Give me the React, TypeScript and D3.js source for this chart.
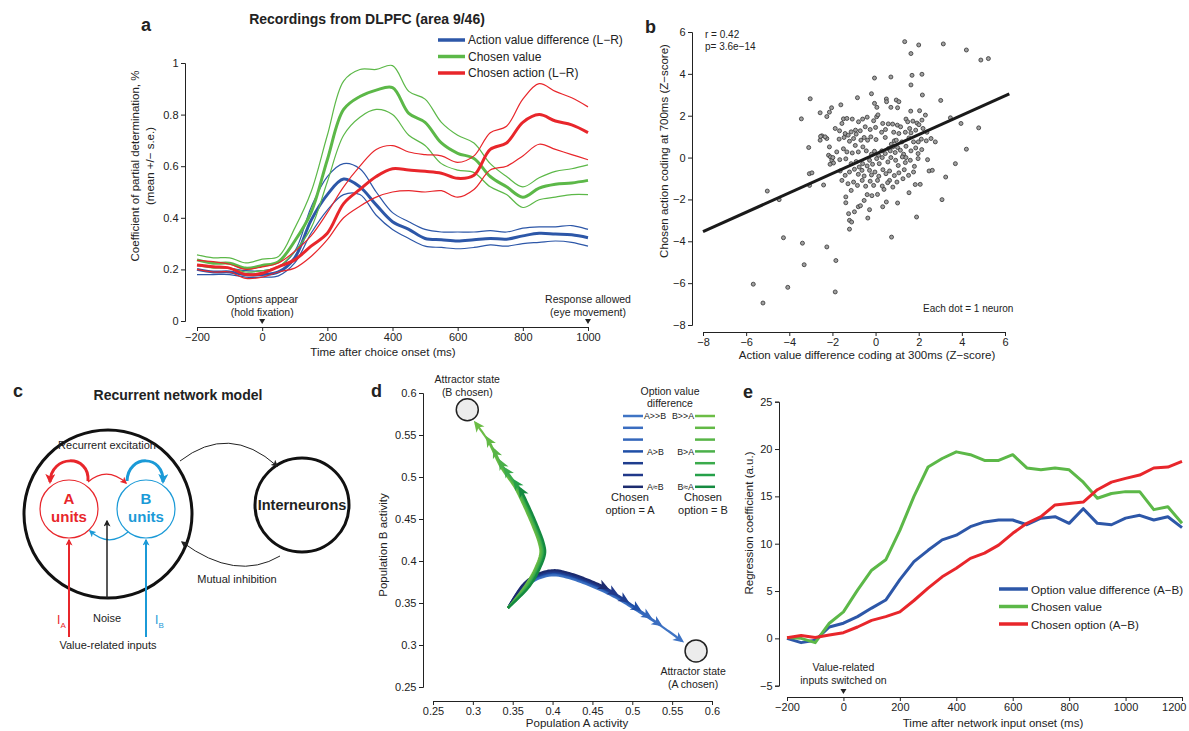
import React, { useEffect, useRef } from 'react';
import * as d3 from 'd3';

const FONT = '"Liberation Sans", Arial, Helvetica, sans-serif';
const INK = '#222';
const BLUE = '#2d57a8';
const GREEN = '#5cb848';
const RED = '#e8262b';
const CYAN = '#1b9ad7';

// ---------- panel a : DLPFC recordings ----------
const TIME_A = [-200, -150, -100, -50, 0, 50, 100, 150, 200, 250, 300, 350, 400, 450, 500, 550, 600, 650, 700, 750, 800, 850, 900, 950, 1000];
const AVD_MEAN = [0.2, 0.19, 0.19, 0.18, 0.18, 0.19, 0.245, 0.39, 0.49, 0.55, 0.52, 0.45, 0.385, 0.355, 0.32, 0.315, 0.31, 0.315, 0.32, 0.317, 0.33, 0.34, 0.337, 0.334, 0.323];
const AVD_UP = [0.215, 0.21, 0.205, 0.195, 0.195, 0.21, 0.27, 0.44, 0.56, 0.61, 0.59, 0.5, 0.42, 0.385, 0.355, 0.345, 0.345, 0.345, 0.35, 0.345, 0.36, 0.365, 0.365, 0.37, 0.355];
const AVD_LO = [0.18, 0.18, 0.18, 0.17, 0.17, 0.175, 0.225, 0.34, 0.43, 0.49, 0.49, 0.41, 0.355, 0.32, 0.29, 0.285, 0.28, 0.285, 0.295, 0.29, 0.3, 0.305, 0.31, 0.305, 0.29];
const CV_MEAN = [0.237, 0.224, 0.224, 0.205, 0.215, 0.23, 0.31, 0.42, 0.625, 0.82, 0.87, 0.895, 0.905, 0.805, 0.77, 0.69, 0.65, 0.63, 0.56, 0.52, 0.48, 0.515, 0.53, 0.535, 0.545];
const CV_UP = [0.256, 0.245, 0.245, 0.225, 0.24, 0.25, 0.36, 0.5, 0.72, 0.93, 0.975, 0.975, 0.99, 0.89, 0.86, 0.77, 0.72, 0.69, 0.61, 0.56, 0.52, 0.555, 0.58, 0.59, 0.605];
const CV_LO = [0.215, 0.205, 0.205, 0.19, 0.195, 0.21, 0.27, 0.36, 0.54, 0.72, 0.79, 0.82, 0.8, 0.72, 0.68, 0.61, 0.585, 0.575, 0.52, 0.49, 0.44, 0.47, 0.48, 0.49, 0.49];
const CA_MEAN = [0.217, 0.21, 0.205, 0.18, 0.185, 0.21, 0.237, 0.29, 0.34, 0.455, 0.51, 0.56, 0.59, 0.585, 0.58, 0.573, 0.553, 0.565, 0.665, 0.69, 0.77, 0.8, 0.775, 0.76, 0.73];
const CA_UP = [0.235, 0.23, 0.22, 0.2, 0.21, 0.225, 0.27, 0.33, 0.42, 0.52, 0.6, 0.665, 0.68, 0.655, 0.645, 0.64, 0.615, 0.64, 0.73, 0.755, 0.86, 0.92, 0.89, 0.865, 0.83];
const CA_LO = [0.2, 0.19, 0.19, 0.165, 0.17, 0.19, 0.205, 0.25, 0.315, 0.4, 0.445, 0.48, 0.5, 0.505, 0.5, 0.505, 0.48, 0.51, 0.585, 0.6, 0.64, 0.685, 0.665, 0.645, 0.625];
const LEGEND_A = ['Action value difference (L\u2212R)', 'Chosen value', 'Chosen action (L\u2212R)'];

// ---------- panel b : scatter ----------
const NEURONS: number[][] = [
  [1.35, 5.54], [2.0, 5.38], [3.14, 5.43], [4.21, 5.14], [4.88, 4.66], [5.23, 4.73], [1.64, 4.97], [-0.05, 3.8], [0.71, 3.85], [1.69, 3.93],
  [2.15, 3.98], [1.64, 3.47], [-3.03, 2.81], [-0.19, 3.05], [-0.84, 2.86], [-1.61, 2.52], [-2.14, 2.17], [-2.04, 2.38], [-2.57, 2.14], [-3.44, 1.85],
  [-2.26, 1.96], [0.5, 2.8], [0.51, 2.67], [0.96, 2.75], [1.08, 2.67], [-0.05, 2.59], [0.06, 2.4], [0.71, 2.4], [1.02, 2.38], [1.63, 2.22],
  [2.04, 2.24], [2.17, 2.99], [2.31, 2.03], [3.02, 2.73], [3.47, 1.9], [3.96, 1.63], [4.78, 1.42], [4.21, 0.4], [3.7, -0.29], [3.25, -0.93],
  [3.08, -2.01], [2.77, 0.75], [2.35, 0.8], [2.57, 0.91], [2.41, -0.1], [2.48, -0.64], [2.63, -0.61], [2.07, -1.28], [1.84, -1.29], [1.55, -1.68],
  [1.9, -2.84], [1.02, -2.17], [0.74, -3.8], [0.65, -1.09], [0.39, -1.52], [0.09, -1.76], [-0.17, -1.82], [-0.39, -1.77], [0.33, -2.35], [0.5, -2.12],
  [-0.53, -2.05], [-0.28, -2.49], [-0.36, -2.89], [-0.8, -2.35], [-0.7, -2.3], [-0.98, -2.59], [-1.13, -1.57], [-1.25, -2.68], [-1.21, -3.0], [-1.11, -3.08],
  [-1.21, -3.42], [-1.38, -2.16], [-1.38, -1.88], [-1.84, -4.92], [-2.26, -4.27], [-1.87, -6.42], [-3.39, -4.09], [-3.31, -5.12], [-4.27, -3.83], [-4.07, -6.2],
  [-5.67, -6.05], [-5.22, -6.95], [-5.02, -1.6], [-4.47, -2.01], [-3.07, -0.77], [-2.95, -0.73], [-3.06, -1.33], [-2.41, -1.31], [-3.1, 0.48], [-2.49, 1.04],
  [-2.26, 0.91], [-2.57, 0.83], [-2.55, 1.01], [-2.34, 0.99], [-2.14, 0.51], [-2.18, 0.11], [-2.09, 0.03], [-2.03, -0.13], [-1.95, -0.26], [-2.11, -0.32],
  [-1.98, 0.0], [-1.8, 0.27], [-1.87, 1.39], [-1.67, 1.28], [-1.56, 1.63], [-1.49, 1.85],
  [-1.33, 1.87], [-1.08, 1.84], [-0.79, 1.71], [-0.6, 1.84], [-0.39, 1.93], [-0.09, 1.76], [0.05, 1.95], [0.11, 2.04], [0.33, 1.63], [0.59, 1.61],
  [0.79, 1.6], [1.01, 1.55], [1.16, 1.47], [1.41, 1.84], [1.49, 1.71], [1.73, 1.74], [1.92, 1.65], [2.01, 1.57], [2.15, 1.79],
  [-1.41, 1.15], [-1.27, 1.07], [-1.13, 1.23], [-0.93, 1.31], [-0.9, 1.12], [-0.71, 1.28], [-0.48, 1.47], [-0.25, 1.34], [0, 1.44], [0.28, 1.21],
  [0.46, 1.34], [0.84, 1.21], [1.08, 1.15], [1.38, 1.21], [1.58, 1.39], [1.64, 1.18], [1.86, 1.31], [2.2, 1.39], [2.38, 1.21],
  [-1.69, 0.88], [-1.46, 0.96], [-1.21, 0.78], [-1.02, 0.91], [-0.94, 0.58], [-0.68, 0.83], [-0.53, 0.96], [-0.37, 0.83], [-0.22, 0.99], [0.02, 0.86],
  [0.45, 0.96], [0.73, 0.64], [0.87, 0.8], [1.02, 0.48], [1.22, 0.75], [1.41, 0.54], [1.55, 0.94], [1.76, 0.75], [1.98, 0.75], [2.12, 0.88],
  [0.8, 0.51], [0.96, 0.83], [0.6, 0.43],
  [-1.49, 0.42], [-1.33, 0.27], [-1.08, 0.22], [-0.8, 0.27], [-0.59, 0.51], [-0.43, 0.32], [-0.19, 0.16], [-0.05, 0.3], [0.14, 0.11], [0.29, 0.32],
  [0.45, 0.19], [0.68, 0.32], [0.91, 0.24], [1.15, 0.35], [1.3, 0.16], [1.64, 0.32], [1.97, 0.19], [2.14, 0.38], [1.86, 0.46],
  [-1.66, -0.1], [-1.38, -0.06], [-1.13, -0.29], [-0.9, -0.19], [-0.76, -0.45], [-0.6, -0.29], [-0.39, -0.4], [-0.28, -0.13], [-0.14, -0.32], [0.05, -0.05],
  [0.17, -0.29], [0.31, 0], [0.57, -0.21], [0.71, 0], [0.93, -0.13], [1.05, -0.38], [1.24, 0.03], [1.41, 0], [1.61, -0.13], [1.8, -0.42],
  [1.97, -0.05], [1.38, -0.24],
  [-1.64, -0.64], [-1.41, -0.85], [-1.21, -0.69], [-0.98, -0.56], [-0.8, -0.8], [-0.63, -0.61], [-0.53, -0.88], [-0.28, -0.61], [-0.19, -0.83], [-0.03, -0.69],
  [0.15, -0.89], [0.34, -0.58], [0.48, -0.77], [0.65, -0.64], [0.87, -0.86], [1.08, -0.73], [1.33, -0.58], [1.53, -0.85], [1.76, -0.69],
  [-1.56, -1.09], [-1.28, -1.25], [-1.02, -1.17], [-0.84, -1.33], [-0.62, -1.09], [-0.46, -1.37], [-0.25, -1.13], [-0.09, -1.33], [0.09, -1.09], [0.31, -1.36],
  [0.56, -1.2], [0.8, -1.41], [0.99, -1.17], [1.27, -1.01],
];
const REG_LINE = [[-8, -3.54], [6.2, 3.04]];
const TICKS_B = [-8, -6, -4, -2, 0, 2, 4, 6];

// ---------- panel d : state space ----------
const PATH_B_CHOSEN = [[0.344, 0.344], [0.3675, 0.369], [0.38, 0.389], [0.3877, 0.4095], [0.386, 0.421], [0.38, 0.437], [0.3675, 0.4646], [0.355, 0.4885], [0.338, 0.512], [0.3215, 0.544], [0.3065, 0.564]];
const PATH_A_CHOSEN = [[0.344, 0.344], [0.363, 0.369], [0.38, 0.381], [0.4006, 0.386], [0.4177, 0.3834], [0.4428, 0.3753], [0.476, 0.361], [0.5097, 0.3416], [0.539, 0.3238], [0.562, 0.308]];
const BLUE_SHADES = ['#3f74c4', '#3a6dc0', '#3467bb', '#1f4fa7', '#1f3d8e', '#20388a', '#1c2b6f'];
const GREEN_SHADES = ['#6cbd46', '#62b946', '#58b547', '#4bb04a', '#3bab4c', '#25a049', '#158a40'];
const BLUE_REACH = [1, 0.87, 0.81, 0.75, 0.68, 0.62, 0.57];
const GREEN_REACH = [1, 0.91, 0.85, 0.79, 0.75, 0.68, 0.64];
const SPREAD = [-0.003, -0.002, -0.001, 0, 0.001, 0.002, 0.003];
const ATTRACTORS = [[0.293, 0.58], [0.58, 0.293]];
const TICKS_D = [0.25, 0.3, 0.35, 0.4, 0.45, 0.5, 0.55, 0.6];
const LEGEND_D_LEFT = ['A>>B', '', '', 'A>B', '', '', 'A\u2248B'];
const LEGEND_D_RIGHT = ['B>>A', '', '', 'B>A', '', '', 'B\u2248A'];

// ---------- panel e : network model ----------
const TIME_E = [-200, -150, -100, -50, 0, 50, 100, 150, 200, 250, 300, 350, 400, 450, 500, 550, 600, 650, 700, 750, 800, 850, 900, 950, 1000, 1050, 1100, 1150, 1200];
const OVD_E = [0, -0.45, -0.2, 1.2, 1.6, 2.3, 3.2, 4.05, 6.2, 8.1, 9.3, 10.4, 10.9, 11.8, 12.3, 12.5, 12.5, 12.0, 12.7, 12.85, 12.15, 13.7, 12.15, 12.0, 12.7, 13.0, 12.5, 12.85, 11.7];
const CV_E = [0.1, 0, -0.45, 1.6, 2.8, 5.1, 7.2, 8.3, 11.4, 15.0, 18.1, 19.0, 19.7, 19.4, 18.8, 18.8, 19.4, 18.0, 17.8, 18.0, 17.8, 16.5, 14.8, 15.3, 15.5, 15.5, 13.6, 13.9, 12.15];
const CO_E = [0.07, 0.3, 0.1, 0.35, 0.6, 1.2, 1.9, 2.3, 2.8, 4.0, 5.3, 6.5, 7.4, 8.45, 9.0, 9.85, 11.1, 12.15, 12.85, 14.1, 14.25, 14.4, 15.7, 16.5, 16.9, 17.25, 18.0, 18.1, 18.7];
const LEGEND_E = ['Option value difference (A\u2212B)', 'Chosen value', 'Chosen option (A\u2212B)'];

type Sel = d3.Selection<any, any, any, any>;
const plain = d3.format('');

function label(g: Sel, x: number, y: number, s: string, size = 11, opts: any = {}) {
  return g.append('text')
    .attr('x', x).attr('y', y)
    .attr('text-anchor', opts.anchor || 'middle')
    .style('font-family', FONT)
    .style('font-size', `${size}px`)
    .style('font-weight', opts.bold ? '700' : '400')
    .style('fill', opts.color || INK)
    .text(s);
}

function vlabel(g: Sel, x: number, y: number, s: string, size = 11.5) {
  return g.append('text')
    .attr('transform', `translate(${x},${y}) rotate(-90)`)
    .attr('text-anchor', 'middle')
    .style('font-family', FONT)
    .style('font-size', `${size}px`)
    .style('fill', INK)
    .text(s);
}

function axis(g: Sel, ax: any, transform: string) {
  const a = g.append('g').attr('transform', transform).call(ax.tickSizeOuter(0).tickSize(4).tickPadding(2.5));
  a.selectAll('text').style('font-family', FONT).style('font-size', '11px').style('fill', INK);
  a.selectAll('line').attr('stroke', INK);
  a.select('.domain').attr('stroke', INK);
  return a;
}

function triangle(g: Sel, x: number, y: number) {
  g.append('path').attr('d', `M${x - 3},${y - 4} L${x + 3},${y - 4} L${x},${y + 1} Z`).attr('fill', INK);
}

function drawA(svg: Sel) {
  const g = svg.append('g');
  const x = d3.scaleLinear().domain([-200, 1000]).range([197, 588]);
  const y = d3.scaleLinear().domain([0, 1]).range([321, 63]);

  label(g, 141, 31, 'a', 18, { bold: true, anchor: 'start' });
  label(g, 367, 24, 'Recordings from DLPFC (area 9/46)', 14, { bold: true });

  axis(g, d3.axisLeft(y).tickValues([0, 0.2, 0.4, 0.6, 0.8, 1]).tickFormat((d: any) => String(d)), 'translate(185,0)');
  axis(g, d3.axisBottom(x).tickValues([-200, 0, 200, 400, 600, 800, 1000]).tickFormat(plain as any), 'translate(0,327)');

  vlabel(g, 139, 166, 'Coefficient of partial determination, %');
  vlabel(g, 154, 166, '(mean +/\u2212 s.e.)');
  label(g, 383, 356, 'Time after choice onset (ms)', 11.5);

  const line = d3.line<number>().x((_, i) => x(TIME_A[i])).y(d => y(d)).curve(d3.curveCatmullRom.alpha(0.5));
  const groups = [
    { c: BLUE, m: AVD_MEAN, u: AVD_UP, l: AVD_LO },
    { c: GREEN, m: CV_MEAN, u: CV_UP, l: CV_LO },
    { c: RED, m: CA_MEAN, u: CA_UP, l: CA_LO },
  ];
  groups.forEach(s => {
    [s.u, s.l].forEach(arr => g.append('path').attr('d', line(arr)).attr('fill', 'none').attr('stroke', s.c).attr('stroke-width', 1.2));
    g.append('path').attr('d', line(s.m)).attr('fill', 'none').attr('stroke', s.c).attr('stroke-width', 3);
  });

  label(g, x(0), 303, 'Options appear', 10.5);
  label(g, x(0), 315.5, '(hold fixation)', 10.5);
  label(g, x(1000), 303, 'Response allowed', 10.5);
  label(g, x(1000), 315.5, '(eye movement)', 10.5);
  triangle(g, x(0), 323);
  triangle(g, x(1000), 323);

  [BLUE, GREEN, RED].forEach((c, i) => {
    const ly = 40 + i * 16.5;
    g.append('line').attr('x1', 438).attr('x2', 465).attr('y1', ly).attr('y2', ly).attr('stroke', c).attr('stroke-width', 3.5);
    label(g, 468, ly + 4, LEGEND_A[i], 12, { anchor: 'start' });
  });
}

function drawB(svg: Sel) {
  const g = svg.append('g');
  const x = d3.scaleLinear().domain([-8, 6]).range([703, 1005]);
  const y = d3.scaleLinear().domain([-8, 6]).range([325, 32]);

  label(g, 645, 33, 'b', 18, { bold: true, anchor: 'start' });
  axis(g, d3.axisLeft(y).tickValues(TICKS_B), 'translate(692,0)');
  axis(g, d3.axisBottom(x).tickValues(TICKS_B), 'translate(0,332)');
  vlabel(g, 668, 151, 'Chosen action coding at 700ms (Z\u2212score)');
  label(g, 867, 359, 'Action value difference coding at 300ms (Z\u2212score)', 11.5);

  g.selectAll('circle.n').data(NEURONS).enter().append('circle')
    .attr('cx', d => x(d[0])).attr('cy', d => y(d[1])).attr('r', 2)
    .attr('fill', '#a0a0a0').attr('stroke', '#333').attr('stroke-width', 0.8);

  g.append('path').attr('d', d3.line()(REG_LINE.map(d => [x(d[0]), y(d[1])]) as any))
    .attr('stroke', '#1a1a1a').attr('stroke-width', 3).attr('fill', 'none');

  label(g, 705, 38, 'r = 0.42', 10, { anchor: 'start' });
  label(g, 705, 50, 'p= 3.6e\u221214', 10, { anchor: 'start' });
  label(g, 923, 312, 'Each dot = 1 neuron', 10, { anchor: 'start' });
}

function drawC(svg: Sel) {
  const g = svg.append('g');
  const defs = svg.append('defs');
  const marker = (id: string, color: string, size: number) => {
    defs.append('marker').attr('id', id).attr('viewBox', '0 0 10 10').attr('refX', 8).attr('refY', 5)
      .attr('markerUnits', 'userSpaceOnUse').attr('markerWidth', size).attr('markerHeight', size).attr('orient', 'auto')
      .append('path').attr('d', 'M0,0 L10,5 L0,10 L2.5,5 Z').attr('fill', color);
  };
  marker('mRedBig', RED, 10);
  marker('mCyanBig', CYAN, 10);
  marker('mRed', RED, 7);
  marker('mCyan', CYAN, 7);
  marker('mBlack', INK, 7);

  label(g, 13, 397, 'c', 18, { bold: true, anchor: 'start' });
  label(g, 178, 400, 'Recurrent network model', 14, { bold: true });

  g.append('circle').attr('cx', 108).attr('cy', 514).attr('r', 84).attr('fill', 'none').attr('stroke', '#111').attr('stroke-width', 3);
  g.append('circle').attr('cx', 302).attr('cy', 505).attr('r', 47).attr('fill', 'none').attr('stroke', '#111').attr('stroke-width', 3);
  label(g, 302, 510, 'Interneurons', 14.5, { bold: true });

  g.append('circle').attr('cx', 69).attr('cy', 509).attr('r', 29).attr('fill', 'none').attr('stroke', RED).attr('stroke-width', 1.2);
  g.append('circle').attr('cx', 146).attr('cy', 509).attr('r', 29).attr('fill', 'none').attr('stroke', CYAN).attr('stroke-width', 1.2);
  label(g, 69, 504, 'A', 15, { bold: true, color: RED });
  label(g, 69, 522, 'units', 15, { bold: true, color: RED });
  label(g, 146, 504, 'B', 15, { bold: true, color: CYAN });
  label(g, 146, 522, 'units', 15, { bold: true, color: CYAN });

  label(g, 107, 449, 'Recurrent excitation', 11);
  const arc = (d: string, c: string, w: number, m: string) =>
    g.append('path').attr('d', d).attr('fill', 'none').attr('stroke', c).attr('stroke-width', w).attr('marker-end', `url(#${m})`);
  arc('M88,481 C90,454 51,454 50,482', RED, 3, 'mRedBig');
  arc('M127,481 C128,454 164,454 163,482', CYAN, 3, 'mCyanBig');
  arc('M88,482 Q107,466 126,483', RED, 1.2, 'mRed');
  arc('M128,532 Q109,548 90,531', CYAN, 1.2, 'mCyan');

  arc('M69,637 L69,540', RED, 2, 'mRed');
  arc('M146,637 L146,540', CYAN, 2, 'mCyan');
  arc('M107,598 L107,521', INK, 1.5, 'mBlack');

  label(g, 57, 624, 'I', 12, { color: RED, anchor: 'start' });
  label(g, 60.5, 628, 'A', 8, { color: RED, anchor: 'start' });
  label(g, 155, 624, 'I', 12, { color: CYAN, anchor: 'start' });
  label(g, 158.5, 628, 'B', 8, { color: CYAN, anchor: 'start' });
  label(g, 107, 622, 'Noise', 11);
  label(g, 108, 649, 'Value-related inputs', 11);

  arc('M180,461 Q229,423 277,466', INK, 1, 'mBlack');
  arc('M280,556 Q236,582 182,542', INK, 1, 'mBlack');
  label(g, 237, 583, 'Mutual inhibition', 11);
}

function drawD(svg: Sel) {
  const g = svg.append('g');
  const x = d3.scaleLinear().domain([0.25, 0.6]).range([433, 712]);
  const y = d3.scaleLinear().domain([0.25, 0.6]).range([687, 393]);
  const fmt = (d: any) => String(+(+d).toFixed(2));

  label(g, 371, 397, 'd', 18, { bold: true, anchor: 'start' });
  axis(g, d3.axisLeft(y).tickValues(TICKS_D).tickFormat(fmt), 'translate(423,0)');
  axis(g, d3.axisBottom(x).tickValues(TICKS_D).tickFormat(fmt), 'translate(0,701)');
  vlabel(g, 387, 545, 'Population B activity');
  label(g, 577, 727, 'Population A activity', 11.5);

  ATTRACTORS.forEach(a => {
    g.append('circle').attr('cx', x(a[0])).attr('cy', y(a[1])).attr('r', 11)
      .attr('fill', '#ececec').attr('stroke', INK).attr('stroke-width', 1.5);
  });
  label(g, x(ATTRACTORS[0][0]), 383, 'Attractor state', 10.5);
  label(g, x(ATTRACTORS[0][0]), 396, '(B chosen)', 10.5);
  label(g, x(ATTRACTORS[1][0]) - 3, 675, 'Attractor state', 10.5);
  label(g, x(ATTRACTORS[1][0]) - 3, 688, '(A chosen)', 10.5);

  const lineGen = d3.line<number[]>().x(d => x(d[0])).y(d => y(d[1])).curve(d3.curveCatmullRom.alpha(0.5));
  const drawTraj = (base: number[][], color: string, reach: number, off: number[]) => {
    const pts = base.map((p, i) => (i === 0 ? p : [p[0] + off[0], p[1] + off[1]]));
    const tmp = g.append('path').attr('d', lineGen(pts)).attr('fill', 'none');
    const node = tmp.node() as SVGPathElement;
    const L = node.getTotalLength() * reach;
    const n = 80;
    const samples = d3.range(n + 1).map(i => node.getPointAtLength((L * i) / n));
    tmp.remove();
    g.append('path').attr('d', d3.line()(samples.map(p => [p.x, p.y]) as any))
      .attr('fill', 'none').attr('stroke', color).attr('stroke-width', 2.2).attr('stroke-linejoin', 'round');
    const p1 = samples[n - 2], p2 = samples[n];
    const ang = (Math.atan2(p2.y - p1.y, p2.x - p1.x) * 180) / Math.PI;
    g.append('path').attr('d', 'M3,0 L-8,-5 L-5,0 L-8,5 Z')
      .attr('transform', `translate(${p2.x},${p2.y}) rotate(${ang})`).attr('fill', color);
  };
  BLUE_SHADES.forEach((c, i) => drawTraj(PATH_A_CHOSEN, c, BLUE_REACH[i], [0, SPREAD[i]]));
  GREEN_SHADES.forEach((c, i) => drawTraj(PATH_B_CHOSEN, c, GREEN_REACH[i], [SPREAD[i], 0]));

  // legend
  label(g, 670, 395, 'Option value', 10.5);
  label(g, 670, 407, 'difference', 10.5);
  BLUE_SHADES.forEach((c, i) => {
    const ly = 416 + i * 11.8;
    g.append('line').attr('x1', 623).attr('x2', 643).attr('y1', ly).attr('y2', ly).attr('stroke', c).attr('stroke-width', 2.5);
    g.append('line').attr('x1', 695).attr('x2', 715).attr('y1', ly).attr('y2', ly).attr('stroke', GREEN_SHADES[i]).attr('stroke-width', 2.5);
    if (LEGEND_D_LEFT[i]) label(g, i === 0 ? 644 : 647, ly + 3.2, LEGEND_D_LEFT[i], 8.8, { anchor: 'start' });
    if (LEGEND_D_RIGHT[i]) label(g, 694, ly + 3.2, LEGEND_D_RIGHT[i], 8.8, { anchor: 'end' });
  });
  label(g, 630, 501, 'Chosen', 11);
  label(g, 630, 513.5, 'option = A', 11);
  label(g, 703, 501, 'Chosen', 11);
  label(g, 703, 513.5, 'option = B', 11);
}

function drawE(svg: Sel) {
  const g = svg.append('g');
  const x = d3.scaleLinear().domain([-200, 1200]).range([787, 1182]);
  const y = d3.scaleLinear().domain([-5, 25]).range([685.7, 401.7]);

  label(g, 743, 398, 'e', 18, { bold: true, anchor: 'start' });
  axis(g, d3.axisLeft(y).tickValues([-5, 0, 5, 10, 15, 20, 25]), 'translate(779,0)');
  const xa = axis(g, d3.axisBottom(x).tickValues([-200, 0, 200, 400, 600, 800, 1000, 1200]).tickFormat(plain as any), 'translate(0,697)');
  xa.selectAll('.tick:last-of-type text').attr('text-anchor', 'end').attr('dx', '4');
  vlabel(g, 753, 523, 'Regression coefficient (a.u.)');
  label(g, 993, 727, 'Time after network input onset (ms)', 11.5);

  const line = d3.line<number>().x((_, i) => x(TIME_E[i])).y(d => y(d));
  [[OVD_E, BLUE], [CV_E, GREEN], [CO_E, RED]].forEach(([arr, c]: any) => {
    g.append('path').attr('d', line(arr)).attr('fill', 'none').attr('stroke', c).attr('stroke-width', 3).attr('stroke-linejoin', 'round');
  });

  label(g, x(0), 671, 'Value-related', 10.5);
  label(g, x(0), 684, 'inputs switched on', 10.5);
  triangle(g, x(0), 693);

  [BLUE, GREEN, RED].forEach((c, i) => {
    const ly = 589 + i * 17.5;
    g.append('line').attr('x1', 999).attr('x2', 1028).attr('y1', ly).attr('y2', ly).attr('stroke', c).attr('stroke-width', 3.5);
    label(g, 1031, ly + 4.5, LEGEND_E[i], 11.6, { anchor: 'start' });
  });
}

export default function App() {
  const ref = useRef<SVGSVGElement>(null);

  useEffect(() => {
    if (!ref.current) return;
    const svg = d3.select(ref.current);
    svg.selectAll('*').remove();
    drawA(svg);
    drawB(svg);
    drawC(svg);
    drawD(svg);
    drawE(svg);
  }, []);

  return (
    <svg
      ref={ref}
      width={1189}
      height={731}
      style={{ position: 'absolute', left: 0, top: 0, background: '#fff', display: 'block' }}
    />
  );
}
